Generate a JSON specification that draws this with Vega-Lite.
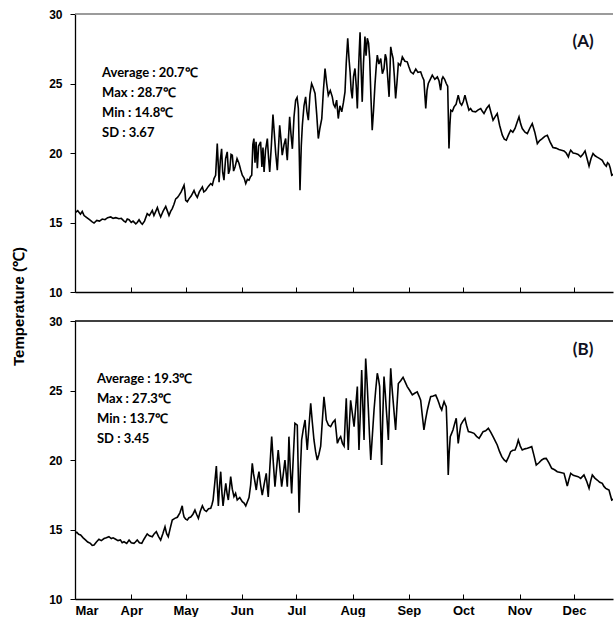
{
  "$schema": "https://vega.github.io/schema/vega-lite/v6.json",
  "padding": {"left": 11, "top": 8, "right": 0, "bottom": 0},
  "bounds": "flush",
  "spacing": 29,
  "config": {
    "view": {"stroke": null},
    "font": "Liberation Sans",
    "axis": {"grid": false, "labelFont": "Liberation Sans", "labelFontWeight": "bold", "labelFontSize": 12, "labelColor": "#000", "domainColor": "#000", "domainWidth": 1.3, "tickColor": "#000", "tickWidth": 1}
  },
  "datasets": {
    "A": [
      {"day":0,"temp":15.7},{"day":1.5,"temp":15.85},{"day":3,"temp":15.6},{"day":4,"temp":15.8},{"day":5,"temp":15.5},{"day":6.5,"temp":15.35},{"day":8,"temp":15.2},{"day":9.5,"temp":15.05},{"day":10.5,"temp":14.96},{"day":12,"temp":15.15},{"day":13.5,"temp":15.1},{"day":15,"temp":15.25},{"day":16.5,"temp":15.2},{"day":18,"temp":15.35},{"day":19.7,"temp":15.4},{"day":21,"temp":15.3},{"day":22.5,"temp":15.35},{"day":24.2,"temp":15.27},{"day":25.5,"temp":15.3},{"day":27,"temp":15.1},{"day":27.9,"temp":15.03},{"day":28.8,"temp":15.25},{"day":29.8,"temp":15.2},{"day":31,"temp":15.0},{"day":32,"temp":15.1},{"day":33.5,"temp":14.9},{"day":34.3,"temp":15.0},{"day":35.3,"temp":15.2},{"day":36.2,"temp":15.0},{"day":37.1,"temp":14.87},{"day":38.3,"temp":15.1},{"day":39.8,"temp":15.64},{"day":41,"temp":15.5},{"day":42.6,"temp":15.87},{"day":43.5,"temp":15.5},{"day":44.5,"temp":15.8},{"day":45.4,"temp":16.07},{"day":46.3,"temp":15.7},{"day":47.2,"temp":15.4},{"day":48.5,"temp":15.8},{"day":50.0,"temp":16.16},{"day":51,"temp":15.8},{"day":51.8,"temp":15.5},{"day":52.7,"temp":15.8},{"day":53.6,"temp":16.0},{"day":54.5,"temp":16.3},{"day":55.5,"temp":16.7},{"day":56.5,"temp":16.8},{"day":57.3,"temp":16.95},{"day":58.5,"temp":17.2},{"day":60.1,"temp":17.68},{"day":60.6,"temp":17.2},{"day":61.0,"temp":16.6},{"day":61.9,"temp":16.5},{"day":62.8,"temp":16.7},{"day":64,"temp":16.9},{"day":65.6,"temp":17.3},{"day":66.5,"temp":17.0},{"day":67.4,"temp":16.8},{"day":68.5,"temp":17.2},{"day":70.2,"temp":17.56},{"day":71,"temp":17.2},{"day":72.0,"temp":17.3},{"day":73.5,"temp":17.6},{"day":74.8,"temp":17.8},{"day":75.7,"temp":17.7},{"day":76.6,"temp":18.16},{"day":77.5,"temp":18.4},{"day":78.4,"temp":20.68},{"day":79.4,"temp":17.9},{"day":80.1,"temp":19.5},{"day":80.8,"temp":20.3},{"day":81.4,"temp":18.6},{"day":82.1,"temp":18.04},{"day":83,"temp":19.6},{"day":83.9,"temp":20.08},{"day":84.6,"temp":18.5},{"day":85.3,"temp":18.8},{"day":86,"temp":19.9},{"day":86.7,"temp":19.84},{"day":87.4,"temp":18.7},{"day":88.2,"temp":19.0},{"day":89.3,"temp":19.6},{"day":90.4,"temp":19.24},{"day":91.3,"temp":18.8},{"day":92.2,"temp":18.4},{"day":93.2,"temp":18.2},{"day":94.1,"temp":17.8},{"day":95,"temp":18.1},{"day":95.9,"temp":18.04},{"day":96.7,"temp":18.3},{"day":97.4,"temp":18.4},{"day":98,"temp":20.6},{"day":98.6,"temp":21.04},{"day":99.2,"temp":19.3},{"day":99.8,"temp":20.8},{"day":100.5,"temp":18.9},{"day":101.2,"temp":20.5},{"day":102.3,"temp":20.8},{"day":103,"temp":19.0},{"day":103.6,"temp":20.4},{"day":104.2,"temp":18.64},{"day":105,"temp":20.2},{"day":106.0,"temp":21.04},{"day":106.7,"temp":19.6},{"day":107.3,"temp":18.64},{"day":108.2,"temp":20.5},{"day":109.1,"temp":22.77},{"day":109.8,"temp":21.5},{"day":110.6,"temp":20.0},{"day":111.5,"temp":18.76},{"day":112.2,"temp":20.5},{"day":112.8,"temp":22.0},{"day":113.5,"temp":21.0},{"day":114.2,"temp":19.84},{"day":115.2,"temp":20.6},{"day":116.1,"temp":21.04},{"day":116.6,"temp":20.0},{"day":117.0,"temp":19.48},{"day":117.7,"temp":21.2},{"day":118.3,"temp":22.6},{"day":119,"temp":21.4},{"day":119.8,"temp":20.3},{"day":120.7,"temp":22.6},{"day":121.6,"temp":23.8},{"day":122.4,"temp":24.0},{"day":123.1,"temp":23.2},{"day":124.0,"temp":17.32},{"day":124.7,"temp":20.5},{"day":125.3,"temp":22.0},{"day":126.2,"temp":23.4},{"day":127.1,"temp":24.04},{"day":127.8,"temp":23.0},{"day":128.6,"temp":22.36},{"day":129.5,"temp":24.2},{"day":130.4,"temp":25.0},{"day":131.3,"temp":24.7},{"day":132.3,"temp":24.28},{"day":133.2,"temp":22.8},{"day":134.1,"temp":21.04},{"day":135,"temp":21.8},{"day":136.0,"temp":22.48},{"day":136.9,"temp":24.5},{"day":137.8,"temp":26.08},{"day":138.7,"temp":25.0},{"day":139.6,"temp":24.16},{"day":140.7,"temp":24.5},{"day":141.8,"temp":24.04},{"day":142.5,"temp":23.5},{"day":143.3,"temp":23.3},{"day":144.2,"temp":23.8},{"day":145.1,"temp":22.48},{"day":146,"temp":23.4},{"day":147.0,"temp":22.96},{"day":147.9,"temp":23.6},{"day":148.8,"temp":24.4},{"day":149.5,"temp":26.5},{"day":150.3,"temp":28.25},{"day":151.0,"temp":26.8},{"day":151.6,"temp":25.84},{"day":152.2,"temp":24.5},{"day":152.8,"temp":23.92},{"day":153.5,"temp":25.5},{"day":154.3,"temp":26.08},{"day":155,"temp":24.8},{"day":155.6,"temp":23.2},{"day":156.4,"temp":26.5},{"day":157.1,"temp":28.68},{"day":157.7,"temp":26.0},{"day":158.3,"temp":23.68},{"day":159,"temp":26.5},{"day":159.8,"temp":28.37},{"day":160.4,"temp":27.0},{"day":161.1,"temp":28.25},{"day":161.8,"temp":27.9},{"day":162.4,"temp":26.8},{"day":163.1,"temp":24.0},{"day":163.8,"temp":21.64},{"day":164.5,"temp":23.0},{"day":165.3,"temp":24.88},{"day":166,"temp":26.2},{"day":166.6,"temp":27.04},{"day":167.5,"temp":26.4},{"day":168.5,"temp":26.8},{"day":169.4,"temp":25.7},{"day":170.3,"temp":26.08},{"day":171,"temp":27.1},{"day":171.6,"temp":26.8},{"day":172.3,"temp":25.5},{"day":173.1,"temp":24.04},{"day":173.6,"temp":26.0},{"day":174.0,"temp":27.64},{"day":174.6,"temp":27.2},{"day":175.3,"temp":26.8},{"day":176,"temp":25.5},{"day":176.7,"temp":23.92},{"day":177.4,"temp":25.0},{"day":178.2,"temp":26.44},{"day":179.3,"temp":26.3},{"day":180.4,"temp":26.92},{"day":181.8,"temp":26.6},{"day":183.1,"temp":26.56},{"day":184,"temp":26.2},{"day":185.0,"temp":25.84},{"day":186.4,"temp":25.7},{"day":187.8,"temp":26.04},{"day":189,"temp":25.8},{"day":190.5,"temp":25.84},{"day":191.4,"temp":25.5},{"day":192.3,"temp":25.24},{"day":192.8,"temp":24.2},{"day":193.3,"temp":23.2},{"day":194,"temp":24.5},{"day":194.7,"temp":25.0},{"day":195.8,"temp":25.3},{"day":196.9,"temp":25.6},{"day":198.3,"temp":25.3},{"day":199.7,"temp":25.48},{"day":200.6,"temp":25.2},{"day":201.5,"temp":24.52},{"day":202.2,"temp":25.3},{"day":202.8,"temp":25.48},{"day":203.7,"temp":25.3},{"day":204.6,"temp":25.0},{"day":205.4,"temp":24.8},{"day":206.1,"temp":20.32},{"day":206.6,"temp":22.0},{"day":207.1,"temp":23.08},{"day":208,"temp":23.0},{"day":208.9,"temp":23.32},{"day":210,"temp":23.5},{"day":211.2,"temp":24.16},{"day":212.2,"temp":23.6},{"day":213.1,"temp":23.44},{"day":214,"temp":23.7},{"day":214.9,"temp":24.16},{"day":216,"temp":23.6},{"day":217.1,"temp":23.08},{"day":218,"temp":23.2},{"day":219,"temp":23.0},{"day":220.8,"temp":22.96},{"day":222.2,"temp":23.1},{"day":223.6,"temp":23.2},{"day":224.5,"temp":23.0},{"day":225.4,"temp":22.84},{"day":226.8,"temp":23.2},{"day":228.2,"temp":23.44},{"day":229.3,"temp":22.9},{"day":230.4,"temp":22.36},{"day":231.5,"temp":22.6},{"day":232.7,"temp":22.84},{"day":234,"temp":22.0},{"day":235.5,"temp":21.28},{"day":236.6,"temp":21.0},{"day":237.7,"temp":20.92},{"day":238.9,"temp":21.3},{"day":240.1,"temp":21.64},{"day":241.3,"temp":21.5},{"day":242.5,"temp":21.76},{"day":243.6,"temp":22.2},{"day":244.7,"temp":22.6},{"day":245.6,"temp":22.1},{"day":246.5,"temp":21.76},{"day":248,"temp":21.5},{"day":249.3,"temp":21.4},{"day":250.7,"temp":21.8},{"day":252.0,"temp":22.12},{"day":253.4,"temp":21.5},{"day":254.8,"temp":20.68},{"day":256.1,"temp":20.9},{"day":257.5,"temp":21.04},{"day":258.9,"temp":21.2},{"day":260.3,"temp":21.28},{"day":261.8,"temp":20.8},{"day":263.4,"temp":20.4},{"day":265,"temp":20.35},{"day":266.7,"temp":20.25},{"day":268.1,"temp":20.2},{"day":269.5,"temp":20.15},{"day":270.7,"temp":20.0},{"day":271.9,"temp":19.72},{"day":272.5,"temp":20.0},{"day":273.2,"temp":20.2},{"day":274.5,"temp":20.0},{"day":275.9,"temp":19.96},{"day":277.3,"temp":19.9},{"day":278.7,"temp":19.72},{"day":279.9,"temp":19.9},{"day":281.1,"temp":20.15},{"day":282.2,"temp":19.6},{"day":283.3,"temp":19.05},{"day":284.4,"temp":19.6},{"day":285.5,"temp":19.96},{"day":286.6,"temp":19.8},{"day":287.8,"temp":19.7},{"day":289.2,"temp":19.6},{"day":290.6,"temp":19.47},{"day":291.7,"temp":19.2},{"day":292.8,"temp":19.05},{"day":293.5,"temp":19.3},{"day":294.3,"temp":19.2},{"day":295,"temp":18.9},{"day":295.8,"temp":18.4},{"day":297,"temp":18.5},{"day":300,"temp":18.3},{"day":305,"temp":18.1}
    ],
    "B": [
      {"day":0,"temp":14.73},{"day":1,"temp":14.8},{"day":2,"temp":14.65},{"day":3.1,"temp":14.6},{"day":4.5,"temp":14.4},{"day":5.9,"temp":14.24},{"day":7,"temp":14.1},{"day":8.5,"temp":14.0},{"day":9.5,"temp":13.85},{"day":10.5,"temp":13.88},{"day":11.8,"temp":14.1},{"day":13.2,"temp":14.3},{"day":14.5,"temp":14.2},{"day":16,"temp":14.35},{"day":17.3,"temp":14.4},{"day":18.7,"temp":14.48},{"day":20,"temp":14.35},{"day":21,"temp":14.4},{"day":22.4,"temp":14.3},{"day":23.7,"temp":14.2},{"day":25,"temp":14.25},{"day":26,"temp":14.05},{"day":27.0,"temp":14.12},{"day":28.5,"temp":14.0},{"day":29.8,"temp":14.24},{"day":31,"temp":14.05},{"day":32.5,"temp":14.0},{"day":33.3,"temp":14.1},{"day":34.3,"temp":14.24},{"day":35.5,"temp":14.05},{"day":36.8,"temp":14.0},{"day":38,"temp":14.3},{"day":39.8,"temp":14.68},{"day":41,"temp":14.55},{"day":42.6,"temp":14.48},{"day":43.7,"temp":14.7},{"day":44.8,"temp":14.84},{"day":46,"temp":14.5},{"day":47.2,"temp":14.24},{"day":48.4,"temp":14.7},{"day":49.6,"temp":15.2},{"day":50.5,"temp":14.7},{"day":51.4,"temp":14.48},{"day":52.5,"temp":15.1},{"day":53.6,"temp":15.68},{"day":55,"temp":15.8},{"day":56.4,"temp":15.88},{"day":57.8,"temp":16.2},{"day":59.1,"temp":16.7},{"day":59.6,"temp":16.2},{"day":60.1,"temp":15.9},{"day":61,"temp":15.75},{"day":61.9,"temp":15.68},{"day":62.8,"temp":15.85},{"day":63.8,"temp":15.9},{"day":65,"temp":16.1},{"day":66.1,"temp":16.4},{"day":67,"temp":16.1},{"day":68.0,"temp":15.8},{"day":69,"temp":16.3},{"day":70.2,"temp":16.7},{"day":71.3,"temp":16.4},{"day":72.4,"temp":16.3},{"day":73.6,"temp":16.5},{"day":74.8,"temp":16.52},{"day":75.5,"temp":16.8},{"day":76.1,"temp":17.12},{"day":77,"temp":18.3},{"day":77.9,"temp":19.57},{"day":78.5,"temp":18.0},{"day":79.0,"temp":16.7},{"day":79.7,"temp":18.2},{"day":80.3,"temp":19.16},{"day":81,"temp":17.6},{"day":81.6,"temp":16.7},{"day":82.3,"temp":17.5},{"day":83.1,"temp":18.32},{"day":83.8,"temp":17.6},{"day":84.5,"temp":17.12},{"day":85.2,"temp":18.0},{"day":85.8,"temp":18.8},{"day":86.7,"temp":17.9},{"day":87.6,"temp":17.36},{"day":88.5,"temp":17.6},{"day":89.4,"temp":17.12},{"day":90.8,"temp":17.3},{"day":92.2,"temp":17.0},{"day":93.2,"temp":16.9},{"day":94.1,"temp":16.7},{"day":95,"temp":17.0},{"day":95.9,"temp":17.3},{"day":96.8,"temp":18.2},{"day":97.7,"temp":19.76},{"day":98.4,"temp":19.0},{"day":99.2,"temp":18.4},{"day":99.9,"temp":17.84},{"day":100.6,"temp":18.6},{"day":101.4,"temp":19.16},{"day":102.3,"temp":18.2},{"day":103.2,"temp":17.48},{"day":104.3,"temp":18.3},{"day":105.4,"temp":19.04},{"day":106,"temp":18.0},{"day":106.5,"temp":17.35},{"day":107.4,"temp":19.5},{"day":108.4,"temp":21.68},{"day":109.3,"temp":19.8},{"day":110.2,"temp":18.08},{"day":111.1,"temp":19.4},{"day":112.0,"temp":20.72},{"day":113,"temp":19.3},{"day":113.9,"temp":18.08},{"day":114.8,"temp":19.0},{"day":115.7,"temp":20.0},{"day":116.4,"temp":19.0},{"day":117.0,"temp":18.08},{"day":117.5,"temp":19.8},{"day":117.9,"temp":21.68},{"day":118.6,"temp":19.5},{"day":119.4,"temp":17.6},{"day":120.3,"temp":20.2},{"day":121.2,"temp":22.64},{"day":122.5,"temp":22.5},{"day":123.5,"temp":16.2},{"day":124.2,"temp":19.2},{"day":124.9,"temp":21.44},{"day":125.8,"temp":22.2},{"day":126.8,"temp":22.88},{"day":127.4,"temp":21.7},{"day":128.0,"temp":20.72},{"day":129,"temp":22.5},{"day":129.9,"temp":24.08},{"day":130.8,"temp":22.7},{"day":131.7,"temp":21.44},{"day":132.6,"temp":20.6},{"day":133.5,"temp":20.0},{"day":134.4,"temp":20.4},{"day":135.4,"temp":21.0},{"day":136.3,"temp":22.8},{"day":137.2,"temp":24.55},{"day":137.9,"temp":23.7},{"day":138.5,"temp":22.88},{"day":139.7,"temp":22.5},{"day":140.9,"temp":22.4},{"day":142.1,"temp":22.7},{"day":143.3,"temp":22.88},{"day":144,"temp":22.0},{"day":144.6,"temp":21.2},{"day":145.5,"temp":21.5},{"day":146.4,"temp":21.68},{"day":147.4,"temp":21.2},{"day":148.3,"temp":21.0},{"day":148.9,"temp":22.8},{"day":149.5,"temp":24.44},{"day":150,"temp":22.5},{"day":150.6,"temp":20.72},{"day":151.2,"temp":22.5},{"day":151.9,"temp":24.3},{"day":152.8,"temp":23.4},{"day":153.8,"temp":22.4},{"day":154.7,"temp":23.8},{"day":155.6,"temp":25.28},{"day":156,"temp":23.0},{"day":156.5,"temp":20.72},{"day":157.3,"temp":23.6},{"day":158.0,"temp":26.47},{"day":158.6,"temp":24.0},{"day":159.3,"temp":21.44},{"day":159.7,"temp":24.5},{"day":160.2,"temp":27.3},{"day":161,"temp":25.5},{"day":161.7,"temp":23.6},{"day":162.3,"temp":21.8},{"day":163.0,"temp":20.0},{"day":163.9,"temp":21.8},{"day":164.8,"temp":23.6},{"day":165.7,"temp":25.0},{"day":166.6,"temp":26.24},{"day":167.3,"temp":25.8},{"day":167.9,"temp":25.28},{"day":168.4,"temp":22.5},{"day":169.0,"temp":19.64},{"day":169.6,"temp":23.0},{"day":170.3,"temp":26.0},{"day":171,"temp":24.8},{"day":171.6,"temp":23.6},{"day":172.2,"temp":22.5},{"day":172.7,"temp":21.44},{"day":173.3,"temp":24.0},{"day":174.0,"temp":26.6},{"day":174.6,"temp":25.4},{"day":175.3,"temp":24.3},{"day":176,"temp":23.2},{"day":176.7,"temp":22.16},{"day":177.4,"temp":23.8},{"day":178.2,"temp":25.5},{"day":179.5,"temp":25.7},{"day":180.8,"temp":25.95},{"day":182,"temp":25.6},{"day":183.1,"temp":25.28},{"day":184.5,"temp":25.0},{"day":185.9,"temp":24.68},{"day":187.2,"temp":24.8},{"day":188.6,"temp":24.9},{"day":189.6,"temp":24.6},{"day":190.5,"temp":24.3},{"day":191.4,"temp":23.2},{"day":192.3,"temp":22.16},{"day":193.2,"temp":22.9},{"day":194.2,"temp":23.6},{"day":195.1,"temp":24.1},{"day":196.0,"temp":24.56},{"day":197.4,"temp":24.6},{"day":198.8,"temp":24.67},{"day":199.7,"temp":24.4},{"day":200.6,"temp":24.08},{"day":201.3,"temp":23.8},{"day":202.1,"temp":23.6},{"day":202.7,"temp":23.9},{"day":203.4,"temp":24.2},{"day":204,"temp":24.0},{"day":204.6,"temp":23.84},{"day":205.1,"temp":22.0},{"day":205.7,"temp":18.92},{"day":206.2,"temp":20.5},{"day":206.8,"temp":21.68},{"day":207.5,"temp":21.9},{"day":208.3,"temp":22.16},{"day":209.2,"temp":22.6},{"day":210.1,"temp":23.0},{"day":210.6,"temp":22.2},{"day":211.2,"temp":21.2},{"day":211.9,"temp":21.9},{"day":212.6,"temp":22.52},{"day":213.8,"temp":22.8},{"day":214.9,"temp":23.0},{"day":215.8,"temp":22.5},{"day":216.8,"temp":22.04},{"day":218.3,"temp":22.0},{"day":219.9,"temp":21.92},{"day":221.3,"temp":21.7},{"day":222.7,"temp":21.56},{"day":223.8,"temp":21.8},{"day":224.9,"temp":22.04},{"day":226.3,"temp":22.1},{"day":227.8,"temp":22.28},{"day":229.1,"temp":22.0},{"day":230.4,"temp":21.68},{"day":231.5,"temp":21.4},{"day":232.7,"temp":21.08},{"day":234,"temp":20.6},{"day":235.2,"temp":20.24},{"day":236.5,"temp":20.0},{"day":237.7,"temp":19.88},{"day":238.9,"temp":20.2},{"day":240.1,"temp":20.6},{"day":241.3,"temp":20.7},{"day":242.5,"temp":20.72},{"day":243.4,"temp":21.0},{"day":244.3,"temp":21.44},{"day":245.4,"temp":21.0},{"day":246.5,"temp":20.72},{"day":247.9,"temp":20.8},{"day":249.3,"temp":20.84},{"day":250.5,"temp":20.9},{"day":251.7,"temp":20.96},{"day":253,"temp":20.3},{"day":254.2,"temp":19.64},{"day":255.7,"temp":19.8},{"day":257.2,"temp":20.0},{"day":258.5,"temp":20.1},{"day":259.7,"temp":20.12},{"day":261.2,"temp":19.8},{"day":262.7,"temp":19.4},{"day":264.3,"temp":19.3},{"day":265.8,"temp":19.16},{"day":267.6,"temp":19.1},{"day":269.5,"temp":19.04},{"day":270.4,"temp":18.6},{"day":271.3,"temp":18.13},{"day":272.2,"temp":18.6},{"day":273.2,"temp":19.04},{"day":274.6,"temp":18.9},{"day":275.9,"temp":18.85},{"day":277.3,"temp":18.8},{"day":278.7,"temp":18.68},{"day":279.6,"temp":18.8},{"day":280.5,"temp":18.92},{"day":281.9,"temp":18.5},{"day":283.3,"temp":17.96},{"day":284.2,"temp":18.5},{"day":285.1,"temp":18.92},{"day":286.5,"temp":18.7},{"day":287.8,"temp":18.56},{"day":289.2,"temp":18.4},{"day":290.6,"temp":18.32},{"day":291.5,"temp":18.1},{"day":292.5,"temp":17.96},{"day":293.4,"temp":17.9},{"day":294.3,"temp":17.84},{"day":295,"temp":17.5},{"day":295.8,"temp":17.12},{"day":297,"temp":17.2},{"day":300,"temp":17.1},{"day":305,"temp":16.9}
    ]
  },
  "vconcat": [
    {
      "width": 538,
      "height": 278,
      "layer": [
        {
          "data": {"values": [{}]},
          "mark": {"type": "rule", "color": "#7a7a7a", "strokeWidth": 1.5},
          "encoding": {"y": {"datum": 30, "type": "quantitative"}}
        },
        {
          "data": {"name": "A"},
          "mark": {"type": "line", "color": "#000", "strokeWidth": 1.6, "clip": true},
          "encoding": {
            "x": {"field": "day", "type": "quantitative", "scale": {"domain": [0, 296.5], "nice": false, "zero": false},
                  "axis": {"values": [0,31,61,92,122,153,184,214,245,275], "labels": false, "title": null, "tickSize": -5}},
            "y": {"field": "temp", "type": "quantitative", "scale": {"domain": [10, 30], "nice": false, "zero": false},
                  "axis": {"values": [10,15,20,25,30], "tickSize": 5, "labelPadding": 8, "title": "Temperature (℃)", "titleFont": "Liberation Sans", "titleFontSize": 15, "titleFontWeight": "bold", "titleColor": "#000", "titleX": -57, "titleY": 292, "titleAngle": -90, "titleBaseline": "middle", "titleAlign": "center"}}
          }
        },
        {
          "data": {"values": [{}]},
          "mark": {"type": "text", "align": "left", "baseline": "middle", "lineHeight": 20, "font": "Lato", "fontWeight": "bold", "fontSize": 13, "color": "#000"},
          "encoding": {"x": {"datum": 14.9}, "y": {"datum": 25.75}, "text": {"value": ["Average : 20.7℃", "Max : 28.7℃", "Min : 14.8℃", "SD : 3.67"]}}
        },
        {
          "data": {"values": [{}]},
          "mark": {"type": "text", "align": "center", "baseline": "middle", "font": "Lato", "fontWeight": "bold", "fontSize": 17, "color": "#101020"},
          "encoding": {"x": {"datum": 280}, "y": {"datum": 27.98}, "text": {"value": "(A)"}}
        }
      ]
    },
    {
      "width": 538,
      "height": 278,
      "layer": [
        {
          "data": {"values": [{}]},
          "mark": {"type": "rule", "color": "#000", "strokeWidth": 1.5},
          "encoding": {"y": {"datum": 30, "type": "quantitative"}}
        },
        {
          "data": {"name": "B"},
          "mark": {"type": "line", "color": "#000", "strokeWidth": 1.6, "clip": true},
          "encoding": {
            "x": {"field": "day", "type": "quantitative", "scale": {"domain": [0, 296.5], "nice": false, "zero": false},
                  "axis": {"values": [0,31,61,92,122,153,184,214,245,275], "title": null, "tickSize": -5, "labelFontSize": 13, "labelPadding": 10, "labelExpr": "['Mar','Apr','May','Jun','Jul','Aug','Sep','Oct','Nov','Dec'][indexof([0,31,61,92,122,153,184,214,245,275], datum.value)]"}},
            "y": {"field": "temp", "type": "quantitative", "scale": {"domain": [10, 30], "nice": false, "zero": false},
                  "axis": {"values": [10,15,20,25,30], "tickSize": 5, "labelPadding": 8, "title": null}}
          }
        },
        {
          "data": {"values": [{}]},
          "mark": {"type": "text", "align": "left", "baseline": "middle", "lineHeight": 20.3, "font": "Lato", "fontWeight": "bold", "fontSize": 13, "color": "#000"},
          "encoding": {"x": {"datum": 12.1}, "y": {"datum": 25.86}, "text": {"value": ["Average : 19.3℃", "Max : 27.3℃", "Min : 13.7℃", "SD : 3.45"]}}
        },
        {
          "data": {"values": [{}]},
          "mark": {"type": "text", "align": "center", "baseline": "middle", "font": "Lato", "fontWeight": "bold", "fontSize": 17, "color": "#101020"},
          "encoding": {"x": {"datum": 280}, "y": {"datum": 27.91}, "text": {"value": "(B)"}}
        }
      ]
    }
  ]
}
